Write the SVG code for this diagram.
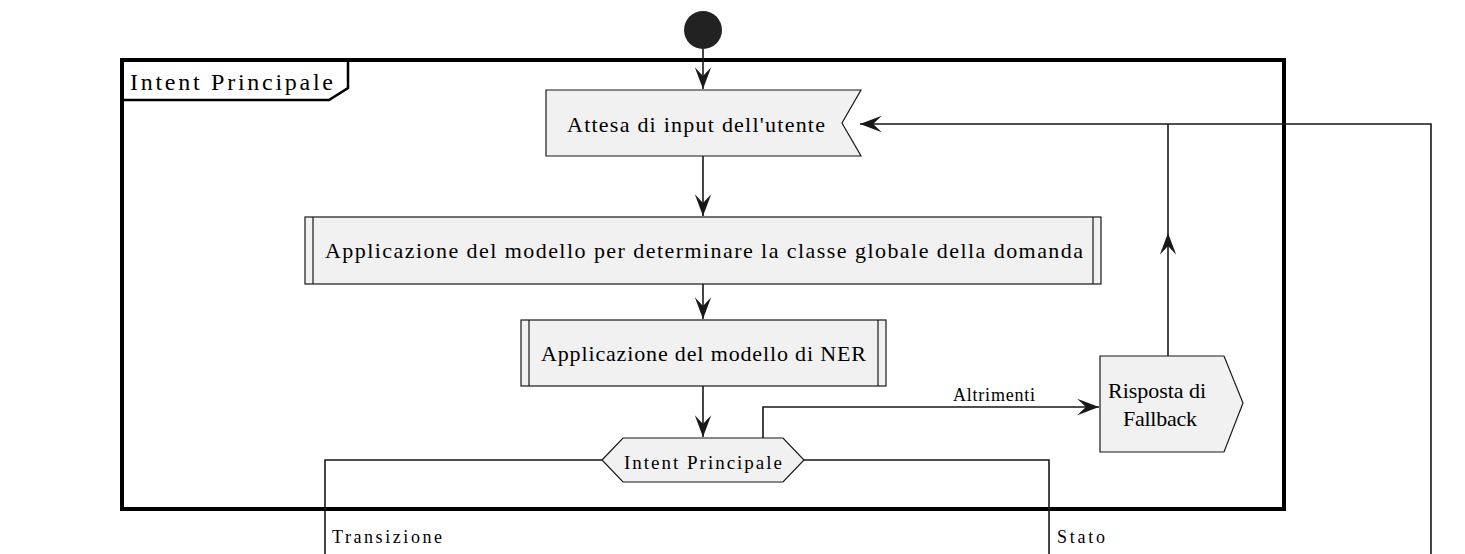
<svg xmlns="http://www.w3.org/2000/svg" width="1465" height="554" viewBox="0 0 1465 554">
<style>
.node{fill:#F1F1F1;stroke:#181818;stroke-width:1.2}
.edge{fill:none;stroke:#181818;stroke-width:1.6}
text{font-family:"Liberation Serif","DejaVu Serif","Times New Roman",serif;fill:#000}
</style>
<defs>
<marker id="ah" markerUnits="userSpaceOnUse" markerWidth="24" markerHeight="20" viewBox="-21 -9 22 18" refX="0" refY="0" orient="auto">
<path d="M0,0 L-20,-7.5 L-12,0 L-20,7.5 Z" fill="#181818"/>
</marker>
</defs>
<rect width="1465" height="554" fill="#FFFFFF"/>
<g id="frame">
<rect x="122" y="60" width="1162" height="449" fill="none" stroke="#000" stroke-width="4"/>
<path d="M122,100 L329,100 L348,88 L348,60" fill="none" stroke="#000" stroke-width="2.5"/>
<text x="130" y="90" font-size="24" textLength="203" lengthAdjust="spacing">Intent Principale</text>
</g>
<g id="connectors">
<path class="edge" d="M703,49 L703,89" marker-end="url(#ah)"/>
<path class="edge" d="M703,156 L703,216" marker-end="url(#ah)"/>
<path class="edge" d="M703,284 L703,319" marker-end="url(#ah)"/>
<path class="edge" d="M703,386 L703,437" marker-end="url(#ah)"/>
<path class="edge" d="M763,438 L763,407 L1099,407" marker-end="url(#ah)"/>
<path class="edge" d="M1168,356 L1168,233" marker-end="url(#ah)"/>
<path class="edge" d="M1168,233 L1168,124"/>
<path class="edge" d="M1431,554 L1431,124 L860,124" marker-end="url(#ah)"/>
<path class="edge" d="M602,460 L325,460 L325,554"/>
<path class="edge" d="M804,460 L1049,460 L1049,554"/>
<text x="953" y="401" font-size="18" textLength="82" lengthAdjust="spacing">Altrimenti</text>
<text x="332" y="543" font-size="18" textLength="110" lengthAdjust="spacing">Transizione</text>
<text x="1057" y="543" font-size="18" textLength="48" lengthAdjust="spacing">Stato</text>
</g>
<g id="start">
<circle cx="703" cy="30" r="19" fill="#222222"/>
</g>
<g id="attesa">
<path class="node" d="M546,90 L861,90 L842,123 L861,156 L546,156 Z"/>
<text x="567" y="132" font-size="22" textLength="258" lengthAdjust="spacing">Attesa di input dell'utente</text>
</g>
<g id="applicazione-classe">
<rect class="node" x="305" y="217" width="796" height="67"/>
<line x1="313" y1="217" x2="313" y2="284" stroke="#181818" stroke-width="1.2"/>
<line x1="1093" y1="217" x2="1093" y2="284" stroke="#181818" stroke-width="1.2"/>
<text x="325" y="258" font-size="22" textLength="758" lengthAdjust="spacing">Applicazione del modello per determinare la classe globale della domanda</text>
</g>
<g id="applicazione-ner">
<rect class="node" x="521" y="320" width="365" height="66"/>
<line x1="529" y1="320" x2="529" y2="386" stroke="#181818" stroke-width="1.2"/>
<line x1="878" y1="320" x2="878" y2="386" stroke="#181818" stroke-width="1.2"/>
<text x="541" y="361" font-size="22" textLength="325" lengthAdjust="spacing">Applicazione del modello di NER</text>
</g>
<g id="decisione">
<path class="node" d="M602,460 L623,438 L783,438 L804,460 L783,482 L623,482 Z"/>
<text x="624" y="469" font-size="19" textLength="158" lengthAdjust="spacing">Intent Principale</text>
</g>
<g id="fallback">
<path class="node" d="M1100,356 L1224,356 L1243,403 L1224,452 L1100,452 Z"/>
<text x="1108" y="398" font-size="22" textLength="98" lengthAdjust="spacing">Risposta di</text>
<text x="1123" y="426" font-size="22" textLength="74" lengthAdjust="spacing">Fallback</text>
</g>
</svg>
